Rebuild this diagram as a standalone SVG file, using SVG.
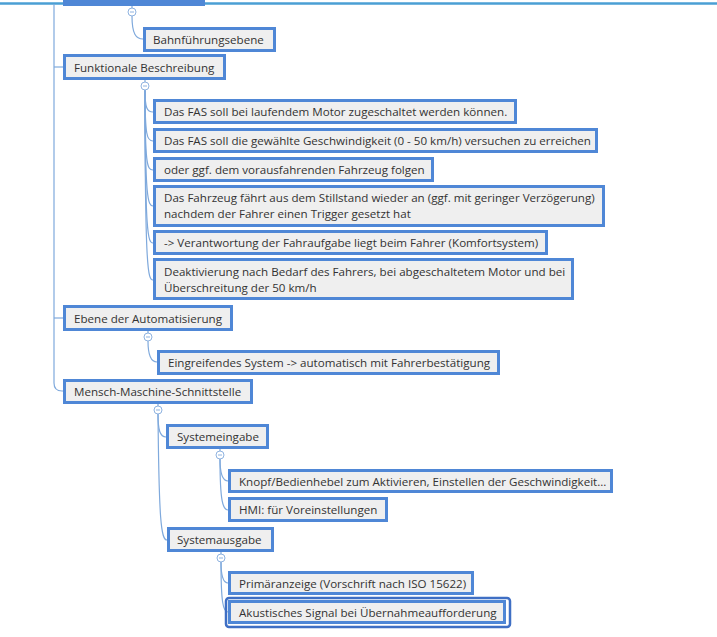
<svg xmlns="http://www.w3.org/2000/svg" width="717" height="637" viewBox="0 0 717 637">
<style>
.box{fill:#efefef;stroke:#4f87d6;stroke-width:3}
.t{font-family:"Open Sans","Noto Sans",sans-serif;font-size:11.6px;fill:#333}
.c{fill:none;stroke:#7fa9dc;stroke-width:1.2}
.tog{fill:#fff;stroke:#8fb3e0;stroke-width:1}
.minus{stroke:#8fb3e0;stroke-width:1}
</style>
<rect width="717" height="637" fill="#fff"/>
<line x1="0" y1="3.5" x2="717" y2="3.5" stroke="#4a9fd4" stroke-width="2.5"/>
<rect x="63" y="0" width="142" height="6" fill="#4f87d6"/>
<g id="connectors">
<path class="c" d="M54,4 V383 Q54,391 62,391 H63"/>
<path class="c" d="M54,67 H63"/>
<path class="c" d="M54,318 H63"/>
<path class="c" d="M132,6 V8"/>
<path class="c" d="M132,16 C132,34 136,39 143,39"/>
<path class="c" d="M145,80 V82"/>
<path class="c" d="M145,90 C145,108 147,112 153,112"/>
<path class="c" d="M145,90 C145,136 147,141 153,141"/>
<path class="c" d="M145,90 C145,165 147,170 153,170"/>
<path class="c" d="M145,90 C145,200 148,206 153,206"/>
<path class="c" d="M145,90 C145,236 148,243 153,243"/>
<path class="c" d="M145,90 C145,272 148,280 153,280"/>
<path class="c" d="M148,331 V333"/>
<path class="c" d="M148,341 C148,356 151,362 157,362"/>
<path class="c" d="M158,404 V406"/>
<path class="c" d="M158,414 C158,430 160,437 166,437"/>
<path class="c" d="M158,414 C159,520 161,540 167,540"/>
<path class="c" d="M220,449 V451"/>
<path class="c" d="M220,459 C220,474 223,481 228,481"/>
<path class="c" d="M220,459 C220,502 223,510 228,510"/>
<path class="c" d="M221,552 V554"/>
<path class="c" d="M221,562 C221,576 223,583 228,583"/>
<path class="c" d="M221,562 C221,602 223,612 228,612"/>
</g>
<g id="toggles">
<circle class="tog" cx="132" cy="12" r="4"/><line class="minus" x1="130" y1="12" x2="134" y2="12"/>
<circle class="tog" cx="145" cy="86" r="4"/><line class="minus" x1="143" y1="86" x2="147" y2="86"/>
<circle class="tog" cx="148" cy="337" r="4"/><line class="minus" x1="146" y1="337" x2="150" y2="337"/>
<circle class="tog" cx="158" cy="410" r="4"/><line class="minus" x1="156" y1="410" x2="160" y2="410"/>
<circle class="tog" cx="220" cy="455" r="4"/><line class="minus" x1="218" y1="455" x2="222" y2="455"/>
<circle class="tog" cx="221" cy="558" r="4"/><line class="minus" x1="219" y1="558" x2="223" y2="558"/>
</g>
<g id="n-bahn"><rect class="box" x="144.5" y="28.5" width="130" height="22"/><text class="t" x="153" y="44">Bahnführungsebene</text></g>
<g id="n-funk"><rect class="box" x="64.5" y="55.5" width="160" height="23"/><text class="t" x="74" y="72">Funktionale Beschreibung</text></g>
<g id="n-f1"><rect class="box" x="154.5" y="100.5" width="361" height="22"/><text class="t" x="164" y="116">Das FAS soll bei laufendem Motor zugeschaltet werden können.</text></g>
<g id="n-f2"><rect class="box" x="154.5" y="129.5" width="442" height="22"/><text class="t" x="164" y="145">Das FAS soll die gewählte Geschwindigkeit (0 - 50 km/h) versuchen zu erreichen</text></g>
<g id="n-f3"><rect class="box" x="154.5" y="158.5" width="278" height="22"/><text class="t" x="164" y="174">oder ggf. dem vorausfahrenden Fahrzeug folgen</text></g>
<g id="n-f4"><rect class="box" x="154.5" y="186.5" width="449" height="39"/><text class="t" x="164" y="202">Das Fahrzeug fährt aus dem Stillstand wieder an (ggf. mit geringer Verzögerung)</text><text class="t" x="164" y="218">nachdem der Fahrer einen Trigger gesetzt hat</text></g>
<g id="n-f5"><rect class="box" x="154.5" y="231.5" width="392" height="22"/><text class="t" x="164" y="247">-&gt; Verantwortung der Fahraufgabe liegt beim Fahrer (Komfortsystem)</text></g>
<g id="n-f6"><rect class="box" x="154.5" y="259.5" width="418" height="39"/><text class="t" x="164" y="276">Deaktivierung nach Bedarf des Fahrers, bei abgeschaltetem Motor und bei</text><text class="t" x="164" y="292">Überschreitung der 50 km/h</text></g>
<g id="n-ebene"><rect class="box" x="64.5" y="306.5" width="167" height="23"/><text class="t" x="74" y="323">Ebene der Automatisierung</text></g>
<g id="n-eingr"><rect class="box" x="158.5" y="351.5" width="340" height="22"/><text class="t" x="168" y="367">Eingreifendes System -&gt; automatisch mit Fahrerbestätigung</text></g>
<g id="n-mms"><rect class="box" x="64.5" y="380.5" width="187" height="22"/><text class="t" x="74" y="396">Mensch-Maschine-Schnittstelle</text></g>
<g id="n-sein"><rect class="box" x="167.5" y="425.5" width="100" height="22"/><text class="t" x="177" y="441">Systemeingabe</text></g>
<g id="n-knopf"><rect class="box" x="229.5" y="470.5" width="382" height="21"/><text class="t" x="239" y="486">Knopf/Bedienhebel zum Aktivieren, Einstellen der Geschwindigkeit...</text></g>
<g id="n-hmi"><rect class="box" x="229.5" y="498.5" width="157" height="22"/><text class="t" x="239" y="514">HMI: für Voreinstellungen</text></g>
<g id="n-saus"><rect class="box" x="168.5" y="528.5" width="104" height="22"/><text class="t" x="177" y="544">Systemausgabe</text></g>
<g id="n-prim"><rect class="box" x="229.5" y="572.5" width="243" height="21"/><text class="t" x="239" y="588">Primäranzeige (Vorschrift nach ISO 15622)</text></g>
<g id="n-akust"><rect x="226" y="598" width="284" height="29" rx="3" fill="none" stroke="#3f6fc4" stroke-width="2.5"/><rect class="box" x="229.5" y="601.5" width="275" height="21"/><text class="t" x="239" y="617">Akustisches Signal bei Übernahmeaufforderung</text></g>
</svg>
